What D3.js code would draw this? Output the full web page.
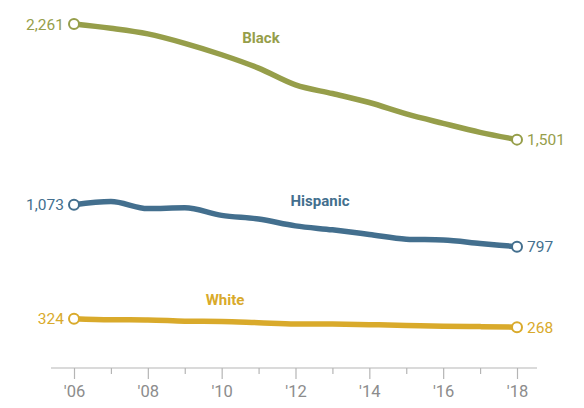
<!DOCTYPE html>
<html><head><meta charset="utf-8">
<script src="https://cdn.jsdelivr.net/npm/d3@7"></script>
<style>body{margin:0;background:#fff}svg{display:block}</style>
</head><body>
<svg id="c" width="584" height="408"></svg>
<script>
const years = [2006,2007,2008,2009,2010,2011,2012,2013,2014,2015,2016,2017,2018];
const black = [2261,2233,2196,2134,2059,1971,1861,1804,1745,1670,1608,1549,1501];
const hispanic = [1073,1094,1048,1053,1003,979,934,908,878,847,841,819,797];
const white = [324,317,316,308,306,298,290,289,285,280,274,272,268];
const tickYears = [2006,2008,2010,2012,2014,2016,2018];
const seriesNames = ["Black","Hispanic","White"];
const colors = ["#969e4a","#436f8e","#d9aa2b"];

const svg = d3.select("#c");
const x = d3.scaleLinear().domain([2006,2018]).range([74,517]);
const y = d3.scaleLinear().domain([0,2261]).range([368,24]);

const g = svg.append("g");
const axis = d3.axisBottom(x).tickValues(years).tickSize(6).tickPadding(6)
  .tickFormat(d => tickYears.includes(d) ? "'" + String(d).slice(2) : "");
const ax = svg.append("g").attr("transform","translate(0,368)").call(axis);
ax.select(".domain").remove();
ax.append("line").attr("x1",51).attr("x2",537).attr("stroke","#b5b5b5").attr("stroke-width",1.2);
ax.selectAll(".tick line").attr("stroke","#b5b5b5").attr("stroke-width",1.2)
  .attr("y2", d => tickYears.includes(d) ? 11 : 6);
ax.selectAll(".tick text").attr("fill","#8c8c8c").attr("font-family","Roboto, 'Open Sans', sans-serif")
  .attr("font-size",16.5).attr("y",17).attr("dy","0.71em");

const data = [black, hispanic, white];
const line = d3.line().x((d,i)=>x(years[i])).y(d=>y(d)).curve(d3.curveMonotoneX);
const fmt = d3.format(",");
const labelPos = [[261,38],[320,201],[225,300]];
data.forEach((vals,k)=>{
  const c = colors[k];
  g.append("path").datum(vals).attr("d",line).attr("fill","none").attr("stroke",c).attr("stroke-width",5.5).attr("stroke-linejoin","round").attr("stroke-linecap","round");
  [0, vals.length-1].forEach(i=>{
    g.append("circle").attr("cx",x(years[i])).attr("cy",y(vals[i])).attr("r",5).attr("fill","#fff").attr("stroke",c).attr("stroke-width",2);
  });
  g.append("text").attr("x",x(years[0])-10).attr("y",y(vals[0])).attr("dy","0.36em").attr("text-anchor","end")
    .attr("fill",c).attr("font-family","Roboto, 'Open Sans', sans-serif").attr("font-size",15.5).text(fmt(vals[0]));
  const n = vals.length-1;
  g.append("text").attr("x",x(years[n])+10).attr("y",y(vals[n])).attr("dy","0.36em").attr("text-anchor","start")
    .attr("fill",c).attr("font-family","Roboto, 'Open Sans', sans-serif").attr("font-size",15.5).text(fmt(vals[n]));
  g.append("text").attr("x",labelPos[k][0]).attr("y",labelPos[k][1]).attr("dy","0.36em").attr("text-anchor","middle")
    .attr("fill",c).attr("font-family","Roboto, 'Open Sans', sans-serif").attr("font-weight","bold").attr("font-size",15).text(seriesNames[k]);
});
</script>
</body></html>
